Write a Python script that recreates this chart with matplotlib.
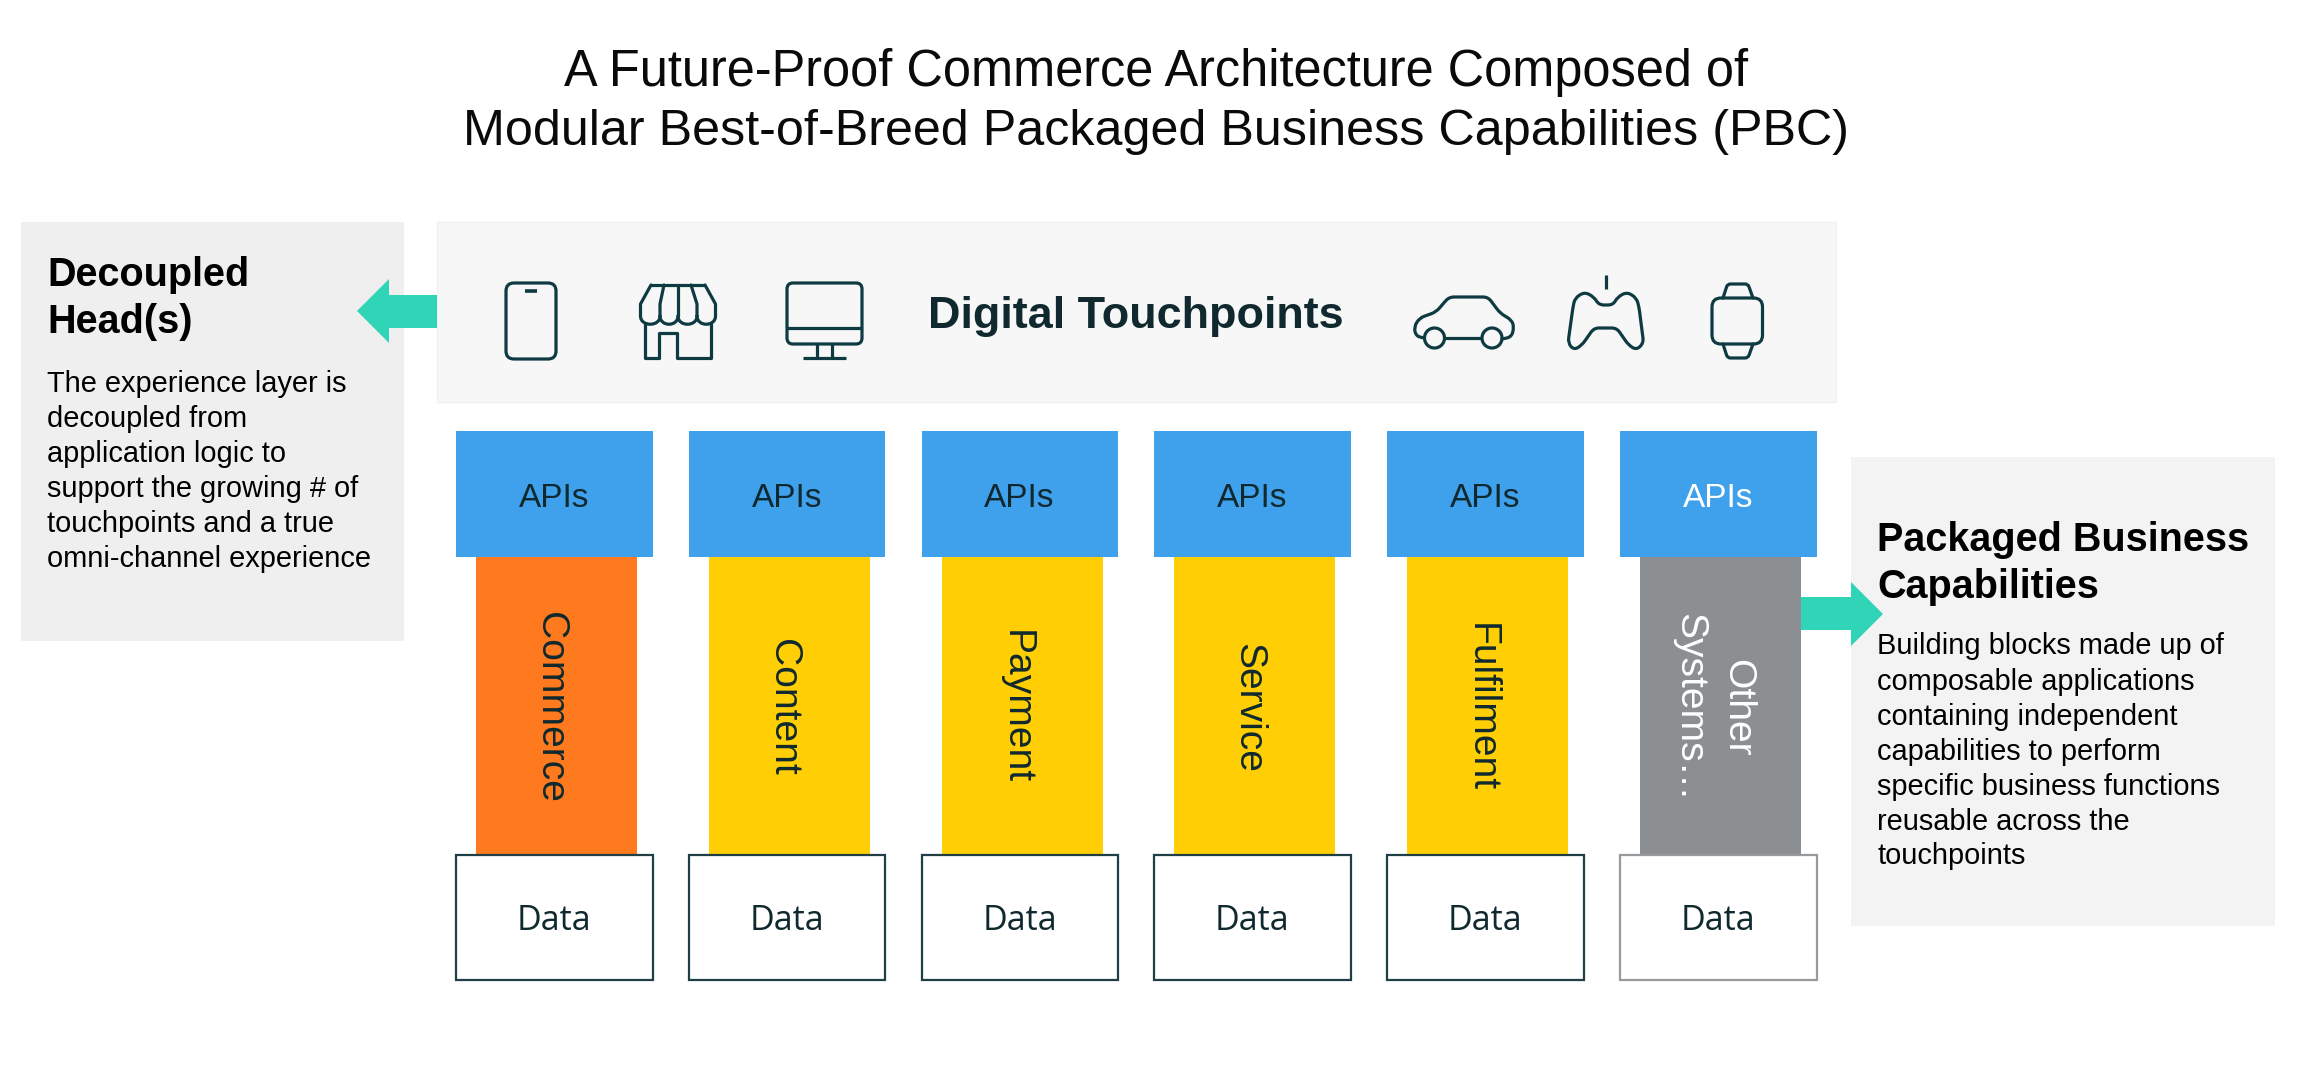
import matplotlib
matplotlib.use('Agg')
import matplotlib.pyplot as plt
from matplotlib.patches import Rectangle, Polygon, PathPatch, Circle
from matplotlib.path import Path

# Content
title_lines = ["A Future-Proof Commerce Architecture Composed of",
               "Modular Best-of-Breed Packaged Business Capabilities (PBC)"]
columns = ["Commerce", "Content", "Payment", "Service", "Fulfilment"]
column_colors = ["#ff7a1f", "#ffce05", "#ffce05", "#ffce05", "#ffce05"]
other_lines = ["Other", "Systems…"]
left_head = ["Decoupled", "Head(s)"]
left_body = ["The experience layer is", "decoupled from", "application logic to",
             "support the growing # of", "touchpoints and a true",
             "omni-channel experience"]
right_head = ["Packaged Business", "Capabilities"]
right_body = ["Building blocks made up of", "composable applications",
              "containing independent", "capabilities to perform",
              "specific business functions", "reusable across the", "touchpoints"]

DARK = "#10292e"
ICON = "#0e3a42"
TEAL = "#30d5b8"
BLUE = "#3fa0ec"
GRAY = "#8c8f92"
ARIAL = "Liberation Sans"
OPEN = "Open Sans"

fig = plt.figure(figsize=(23, 10.8), dpi=100)
ax = fig.add_axes([0, 0, 1, 1])
ax.set_xlim(0, 2300)
ax.set_ylim(1080, 0)
ax.axis("off")


def box(x0, y0, x1, y1, **kw):
    kw.setdefault("lw", 0)
    ax.add_patch(Rectangle((x0, y0), x1 - x0, y1 - y0, **kw))


def rounded(pts, r=6, closed=True):
    # polygon with quadratic rounded corners
    verts, codes = [], []
    n = len(pts)
    for i, p in enumerate(pts):
        if not closed and i in (0, n - 1):
            verts.append(p)
            codes.append(Path.MOVETO if i == 0 else Path.LINETO)
            continue
        a, b = pts[i - 1], pts[(i + 1) % n]
        da = ((a[0] - p[0]) ** 2 + (a[1] - p[1]) ** 2) ** .5
        db = ((b[0] - p[0]) ** 2 + (b[1] - p[1]) ** 2) ** .5
        ra, rb = min(r, da / 2), min(r, db / 2)
        s = (p[0] + (a[0] - p[0]) * ra / da, p[1] + (a[1] - p[1]) * ra / da)
        e = (p[0] + (b[0] - p[0]) * rb / db, p[1] + (b[1] - p[1]) * rb / db)
        verts.append(s)
        codes.append(Path.MOVETO if (i == 0) else Path.LINETO)
        verts += [p, e]
        codes += [Path.CURVE3, Path.CURVE3]
    if closed:
        verts.append(verts[0])
        codes.append(Path.CLOSEPOLY)
    return Path(verts, codes)


def stroke(path, lw=2.3, fc="none"):
    ax.add_patch(PathPatch(path, fc=fc, ec=ICON, lw=lw, capstyle="round", joinstyle="round"))


def seg(x0, y0, x1, y1, lw=2.3):
    ax.plot([x0, x1], [y0, y1], color=ICON, lw=lw, solid_capstyle="butt")


# Title
ax.text(1156, 86, title_lines[0], fontsize=36.4, family=ARIAL, color="#0a0a0a", ha="center", va="baseline")
ax.text(1156, 145, title_lines[1], fontsize=36.2, family=ARIAL, color="#0a0a0a", ha="center", va="baseline")

# Side boxes and touchpoint panel
box(21, 222, 404, 641, fc="#efefef")
box(1851, 457, 2275, 926, fc="#f3f3f3")
box(437, 222, 1836, 402, fc="#f7f7f7", ec="#f0f0f0", lw=1)

# Arrows
ax.add_patch(Polygon([(437, 295), (389, 295), (389, 279), (357, 311), (389, 343), (389, 328), (437, 328)],
                     fc=TEAL, lw=0, zorder=3))

# Columns
pitch = 232.8
for i in range(6):
    x = 456 + i * pitch
    cx = x + 98
    other = i == 5
    box(x + 20, 557, x + 181, 855, fc=GRAY if other else column_colors[i])
    box(x, 431, x + 196.5, 557, fc=BLUE)
    box(x, 855, x + 196.5, 980, fc="white", ec="#9a9a9a" if other else "#1f3f45", lw=1.6)
    ax.text(cx, 507, "APIs", fontsize=24, family=ARIAL, color="white" if other else DARK,
            ha="center", va="baseline")
    ax.text(cx, 930, "Data", fontsize=24.5, family=OPEN, color=DARK, ha="center", va="baseline")
    if not other:
        ax.text(x + 84, 707.5, columns[i], fontsize=28.1, family=ARIAL, color=DARK, rotation=270,
                rotation_mode="anchor", ha="center", va="baseline")
ax.text(1727, 708, other_lines[0], fontsize=28.1, family=ARIAL, color="white", rotation=270,
        rotation_mode="anchor", ha="center", va="baseline")
ax.text(1679.5, 707, other_lines[1], fontsize=28.1, family=ARIAL, color="white", rotation=270,
        rotation_mode="anchor", ha="center", va="baseline")

ax.add_patch(Polygon([(1801, 597), (1851, 597), (1851, 582), (1883, 614), (1851, 646), (1851, 630), (1801, 630)],
                     fc=TEAL, lw=0, zorder=3))

# Touchpoint label
ax.text(1136, 328, "Digital Touchpoints", fontsize=32.4, family=ARIAL, weight="bold", color=DARK,
        ha="center", va="baseline")

# Phone
stroke(rounded([(506, 283), (556, 283), (556, 359), (506, 359)], r=8))
seg(525, 291, 536.5, 291, lw=2.6)

# Store
seg(651, 285, 705, 285)
xs = [640.5, 660, 678, 697, 715.5]
tops = [651, 664, 678, 691, 705]
for k in range(5):
    stroke(Path([(tops[k], 285), (xs[k], 304), (xs[k], 316)], [1, 2, 2]))
for k in range(4):
    a, b = xs[k], xs[k + 1]
    stroke(Path([(a, 316), (a, 327), (b, 327), (b, 316)], [1, 4, 4, 4]))
stroke(Path([(645, 324), (645, 358), (659, 358), (659, 333), (677, 333), (677, 358), (711, 358), (711, 324)],
            [1, 2, 2, 2, 2, 2, 2, 2]))

# Monitor
stroke(rounded([(787, 283), (862, 283), (862, 344), (787, 344)], r=6))
seg(787, 328, 862, 328)
seg(816.5, 344, 816.5, 358)
seg(831.5, 344, 831.5, 358)
seg(802.5, 358, 846, 358)

# Car
stroke(rounded([(1424, 338), (1416, 336), (1414, 327), (1419.5, 318), (1436, 312), (1449, 297), (1488, 297),
                (1500, 313), (1511.5, 320), (1514, 327), (1511.5, 337), (1502, 339)], r=5, closed=False))
stroke(Path([(1445.5, 338), (1481, 338)], [1, 2]))
ax.add_patch(Circle((1434.5, 338), 10, fc="none", ec=ICON, lw=2.3))
ax.add_patch(Circle((1492, 338), 10, fc="none", ec=ICON, lw=2.3))

# Gamepad
seg(1606, 275, 1606, 289)
stroke(rounded([(1599, 305), (1613, 305), (1617.6, 297), (1627, 292), (1636.5, 298), (1639, 307), (1643.6, 343),
                (1636.5, 350), (1628.5, 345), (1616.7, 328), (1594, 328), (1582, 345), (1574, 350), (1568, 343),
                (1573, 307), (1575, 298), (1584.6, 292), (1594, 297)], r=5))

# Watch
stroke(rounded([(1712, 298), (1762.5, 298), (1762.5, 344), (1712, 344)], r=9))
stroke(rounded([(1723, 298), (1727.5, 284), (1748, 284), (1753, 298)], r=3, closed=False))
stroke(rounded([(1723, 344), (1727.5, 358), (1748, 358), (1753, 344)], r=3, closed=False))

# Side text
for y, s in zip([286, 333], left_head):
    ax.text(47, y, s, fontsize=28.5, family=ARIAL, weight="bold", color="black", va="baseline")
for y, s in zip([392, 427, 462, 497, 532, 567], left_body):
    ax.text(47, y, s, fontsize=20.9, family=ARIAL, color="black", va="baseline")
for y, s in zip([551, 598], right_head):
    ax.text(1877, y, s, fontsize=28.5, family=ARIAL, weight="bold", color="black", va="baseline", zorder=4)
for y, s in zip([654.5, 690, 725, 760, 795, 830, 864.5], right_body):
    ax.text(1877, y, s, fontsize=20.9, family=ARIAL, color="black", va="baseline", zorder=4)

fig.savefig("out.png", dpi=100, facecolor="white")
